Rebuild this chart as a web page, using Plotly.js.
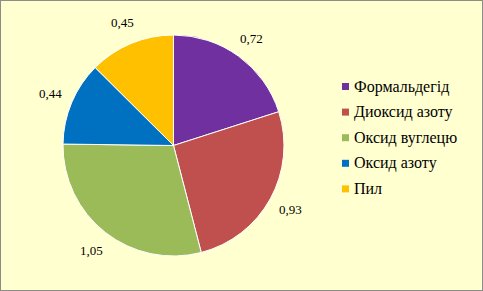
<!DOCTYPE html>
<html><head><meta charset="utf-8">
<script src="https://cdn.plot.ly/plotly-3.0.1.min.js"></script>
<style>html,body{margin:0;padding:0;background:#FFFFD0;}</style>
</head><body>
<div id="chart" style="width:483px;height:291px;"></div>
<script>
const categories = ["Формальдегід", "Диоксид азоту", "Оксид вуглецю", "Оксид азоту", "Пил"];
const values = [0.72, 0.93, 1.05, 0.44, 0.45];
const colors = ["#7030A0", "#C0504D", "#9BBB59", "#0070C0", "#FFC000"];

const W = 483, H = 291;
const serif = "Times New Roman";
const cx = 173.5, cy = 145.5, R = 110.5, labelR = 133;

const pie = {
  type: "pie",
  labels: categories,
  values: values,
  sort: false,
  direction: "clockwise",
  rotation: 0,
  showlegend: false,
  marker: {colors: colors, line: {color: "#FFFFFF", width: 1}},
  textinfo: "none",
  hoverinfo: "none",
  domain: {x: [(cx - R) / W, (cx + R) / W], y: [1 - (cy + R) / H, 1 - (cy - R) / H]}
};

// value labels placed at each slice's mid-angle (derived from the data)
const total = values.reduce((a, b) => a + b, 0);
let cum = 0;
const annotations = [];
values.forEach((v) => {
  const mid = (cum + v / 2) / total * 2 * Math.PI;
  cum += v;
  const px = cx + labelR * Math.sin(mid), py = cy - labelR * Math.cos(mid);
  annotations.push({xref: "paper", yref: "paper", x: px / W, y: 1 - py / H,
    xanchor: "center", yanchor: "middle", showarrow: false,
    text: v.toFixed(2).replace(".", ","),
    font: {family: serif, size: 13, color: "#000000"}});
});

// legend drawn as text + colour squares
const legX = 342, legY0 = 86.5, legDy = 25.6, sq = 7;
const shapes = [];
categories.forEach((c, i) => {
  const y = legY0 + i * legDy;
  shapes.push({type: "rect", xref: "paper", yref: "paper",
    x0: legX / W, x1: (legX + sq) / W, y0: 1 - (y + sq / 2) / H, y1: 1 - (y - sq / 2) / H,
    fillcolor: colors[i], line: {width: 0}});
  annotations.push({xref: "paper", yref: "paper", x: (legX + sq + 3) / W, y: 1 - y / H,
    xanchor: "left", yanchor: "middle", showarrow: false, text: c,
    font: {family: serif, size: 16, color: "#000000"}});
});
shapes.push({type: "rect", xref: "paper", yref: "paper", x0: 0, x1: 1, y0: 0, y1: 1,
  line: {color: "#8C8C8C", width: 2}});

const layout = {
  width: W, height: H,
  margin: {l: 0, r: 0, t: 0, b: 0},
  paper_bgcolor: "#FFFFD0",
  font: {family: serif},
  showlegend: false,
  annotations: annotations,
  shapes: shapes
};
Plotly.newPlot("chart", [pie], layout, {displayModeBar: false, staticPlot: true});
</script>
</body></html>
